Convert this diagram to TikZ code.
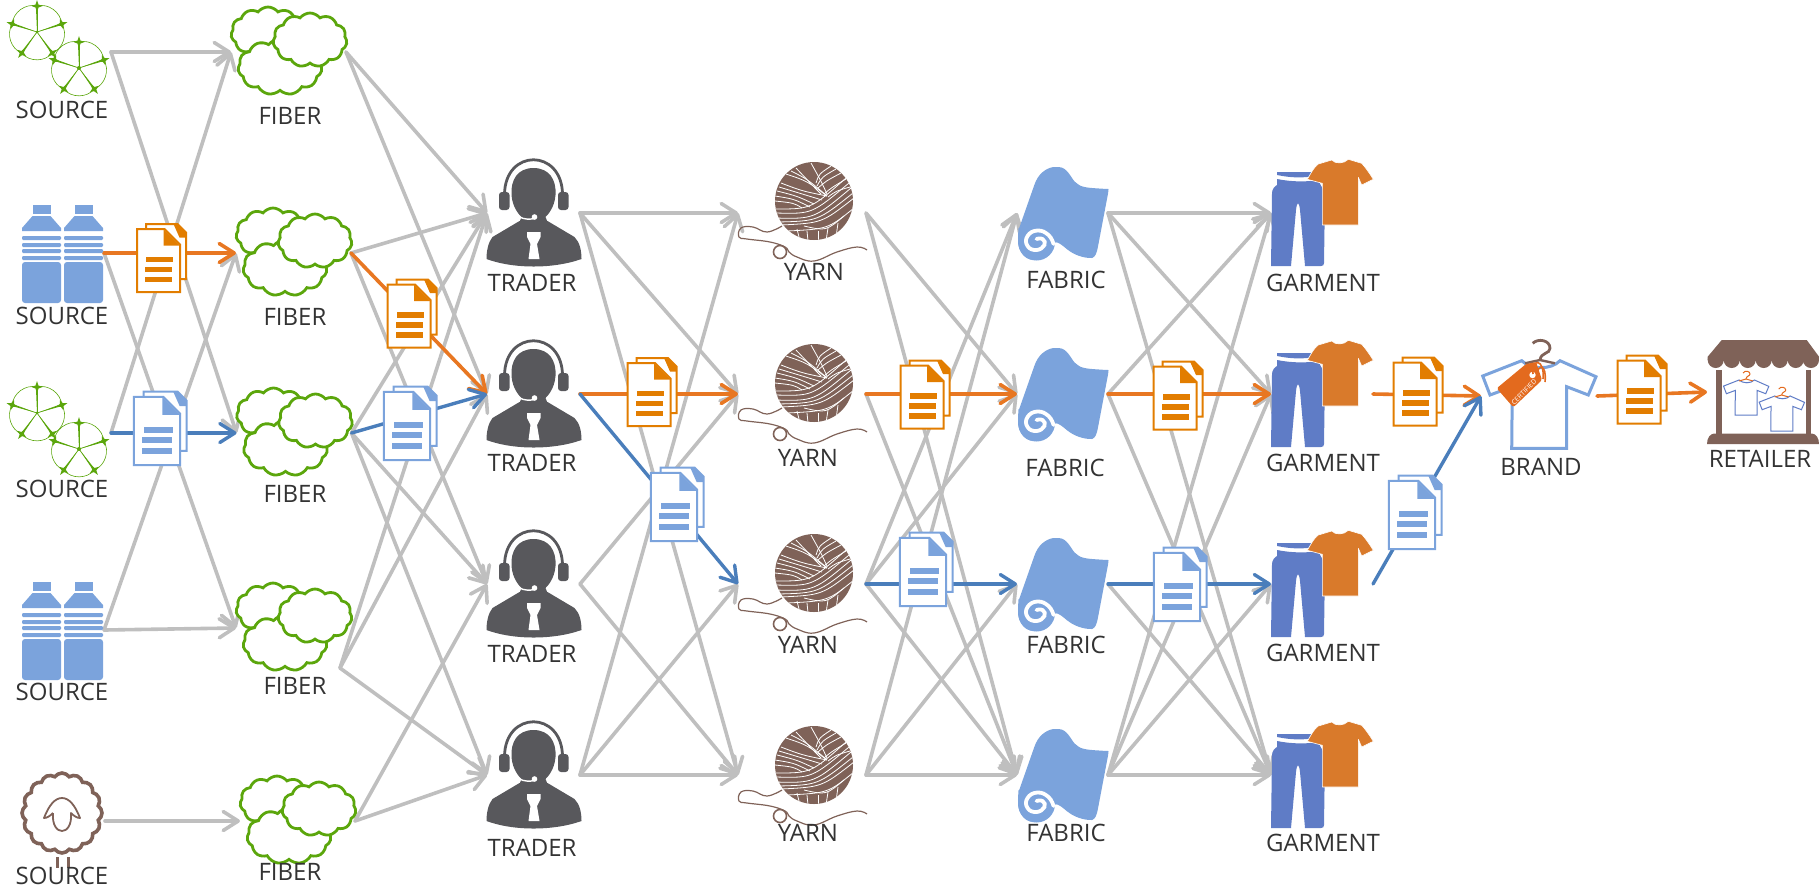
\documentclass[tikz,border=0pt]{standalone}
\usepackage{fontspec}
\setmainfont{Open Sans}
\usetikzlibrary{arrows.meta,shapes.symbols}

\definecolor{linkgrey}{HTML}{BFBFBF}
\definecolor{docorange}{HTML}{E27D00}
\definecolor{docblue}{HTML}{7BA3DC}
\definecolor{linkorange}{HTML}{E87722}
\definecolor{linkblue}{HTML}{4A7EBB}
\definecolor{cottongreen}{HTML}{5BA60C}
\definecolor{woolbrown}{HTML}{7F6258}
\definecolor{traderdark}{HTML}{58585C}
\definecolor{pantsblue}{HTML}{5F7CC6}
\definecolor{teeorange}{HTML}{D97A2B}
\definecolor{tagorange}{HTML}{E36A1E}
\definecolor{textdark}{HTML}{333333}

\tikzset{
  pics/boll arm/.style={code={
    \draw[cottongreen,line width=.3pt] (0,0) -- (0,-26);
    \fill[cottongreen] (0,0) -- (1,-24) -- (-1,-24) -- cycle;
    \fill[cottongreen] (0,-32) -- (1.5,-27.5) -- (5.5,-26) -- (1.5,-24.5) -- (0,-20) -- (-1.5,-24.5) -- (-5.5,-26) -- (-1.5,-27.5) -- cycle;
    \draw[cottongreen,line width=.3pt] (0,-26) .. controls (11,-29) and (24,-20) .. (24.7,-8);
  }},
  pics/boll/.style={code={
    \pic[rotate=0] {boll arm};
    \pic[rotate=72] {boll arm};
    \pic[rotate=144] {boll arm};
    \pic[rotate=216] {boll arm};
    \pic[rotate=288] {boll arm};
    \fill[cottongreen] (0,0) circle[radius=2];
  }},
  pics/cotton pair/.style={code={
    \pic[scale=.76,rotate=-8] at (-25,-20) {boll};
    \pic[rotate=-3] at (17,16) {boll};
  }},
  pics/bottle half/.style={code={
    \fill[docblue] (-9,-48) rectangle (9,-39);
    \fill[docblue] (-9,-37) -- (9,-37) -- (19.5,-25) -- (19.5,-22) -- (-19.5,-22) -- (-19.5,-25) -- cycle;
    \fill[docblue,rounded corners=.6pt] (-19.5,-17) rectangle (19.5,-13);
    \fill[docblue,rounded corners=.6pt] (-19.5,-10) rectangle (19.5,-6);
    \fill[docblue,rounded corners=.6pt] (-19.5,-4) rectangle (19.5,0);
    \fill[docblue,rounded corners=.6pt] (-19.5,3) rectangle (19.5,7);
    \fill[docblue,rounded corners=1.5pt] (-19.5,9) rectangle (19.5,50);
  }},
  pics/bottle pair/.style={code={
    \pic at (-20.5,0) {bottle half};
    \pic at (21.5,0) {bottle half};
  }},
  pics/sheep/.style={code={
    \fill[woolbrown] (-6.5,36) rectangle (-3.5,47);
    \fill[woolbrown] (4.5,36) rectangle (7.5,47);
    \node[cloud,cloud puffs=16,cloud puff arc=110,aspect=1,draw=woolbrown,line width=1.8pt,fill=white,minimum size=40pt,inner sep=0pt] (-wool) at (0,-8) {};
    \draw[woolbrown,line width=.9pt,line join=round] (-9,-8) .. controls (-12,-5) and (-15,-3) .. (-18,-3) .. controls (-13,-16) and (-7,-23) .. (0,-23) .. controls (7,-23) and (13,-16) .. (18,-3) .. controls (15,-3) and (12,-5) .. (9,-8) .. controls (10,4) and (5,10) .. (0,10) .. controls (-5,10) and (-10,4) .. (-9,-8);
  }},
  pics/cloud trio/.style={code={
    \node[fiber puff,minimum width=37pt,minimum height=26pt] (-back) at (-20.5,-19) {};
    \node[fiber puff,minimum width=42pt,minimum height=28pt] (-front) at (-8.5,15) {};
    \node[fiber puff,minimum width=37pt,minimum height=27pt] (-top) at (21.5,-12) {};
  }},
  pics/trader/.style={code={
    \draw[traderdark,line width=1.4pt] (-29,-18) .. controls (-29,-65) and (29,-65) .. (29,-18);
    \fill[traderdark,rounded corners=1.5pt] (-34.5,-21) rectangle (-24,-3);
    \fill[traderdark,rounded corners=1.5pt] (24.5,-21) rectangle (35,-3);
    \fill[traderdark] (0,-45) .. controls (16,-45) and (23,-33) .. (22,-18) .. controls (21,-5) and (14,2) .. (12,4) -- (14,9) -- (-14,9) -- (-12,4) .. controls (-14,2) and (-21,-5) .. (-22,-18) .. controls (-23,-33) and (-16,-45) .. (0,-45) -- cycle;
    \fill[traderdark] (-14,8) -- (14,8) -- (41,24) .. controls (46,29) and (48,37) .. (48,46) .. controls (20,56) and (-20,56) .. (-47,46) .. controls (-47,37) and (-45,29) .. (-41,24) -- cycle;
    \draw[white,line width=.7pt] (-14,4) .. controls (-9,6.5) and (-4,6.5) .. (1,5.5);
    \fill[white] (1,4) circle[radius=2.8];
    \fill[white] (-6.5,19) -- (7,19) -- (7,24) -- (3.5,31) -- (6,46) -- (-5,46) -- (-3,31) -- (-6.5,24) -- cycle;
  }},
  pics/yarn ball/.style={code={
    \draw[woolbrown,line width=.6pt] plot[smooth,tension=.7] coordinates {(-32,25) (-47,31) (-61,26) (-73,27) (-75,36) (-67,38) (-44,41) (-29,46) (-25,51) (-17,56) (0,60) (23,51) (43,46) (53,49)};
    \draw[woolbrown,line width=.8pt] (-34,51) circle[radius=6.5];
    \fill[woolbrown] (0,0) circle[radius=39];
    \begin{scope}
      \clip (0,0) circle[radius=39];
      \draw[white,line width=.4pt] (-39,17) .. controls (0,18) .. (37,-13);
      \draw[white,line width=.4pt] (-36,21) .. controls (4,20) .. (39,-8);
      \draw[white,line width=.4pt] (-33,24) .. controls (8,22) .. (40,-3);
      \draw[white,line width=.4pt] (-27,30) .. controls (14,28) .. (40,7);
      \draw[white,line width=.4pt] (-38,8) .. controls (-3,8) .. (32,-23);
      \draw[white,line width=.4pt] (-38,12) .. controls (-2,13) .. (35,-18);
      \draw[white,line width=.4pt] (-10,25) .. controls (12,30) .. (30,15);
      \draw[white,line width=.4pt] (-33,-18) .. controls (-12,-10) .. (13,-5);
      \draw[white,line width=.4pt] (-37,-10) .. controls (-17,-5) .. (0,3);
      \draw[white,line width=.4pt] (-35,-14) .. controls (-15,-8) .. (8,-1);
      \draw[white,line width=.4pt] (-39,-5) .. controls (-20,-2) .. (-4,6);
      \draw[white,line width=.4pt] (-39,0) .. controls (-20,2) .. (-12,7);
      \draw[white,line width=.4pt] (-28,-27) .. controls (-7,-20) .. (13,-5);
      \draw[white,line width=.4pt] (-23,-30) .. controls (-7,-22) .. (12,-6);
      \draw[white,line width=.4pt] (-18,-33) .. controls (0,-14) .. (7,-7);
      \draw[white,line width=.4pt] (-3,-38) .. controls (7,-20) .. (13,-7);
      \draw[white,line width=.4pt] (27,-28) .. controls (12,-20) .. (4,-13);
      \draw[white,line width=.4pt] (32,-22) .. controls (17,-13) .. (10,-7);
      \draw[white,line width=.4pt] (36,-14) .. controls (22,-10) .. (14,-4);
      \draw[white,line width=.4pt] (17,-35) .. controls (5,-27) .. (2,-18);
      \draw[white,line width=.4pt] (22,-32) .. controls (8,-24) .. (3,-15);
      \draw[white,line width=.4pt] (-17,28) -- (-14,40);
      \draw[white,line width=.4pt] (-7,30) -- (-6,40);
      \draw[white,line width=.4pt] (4,30) -- (4,40);
      \draw[white,line width=.4pt] (14,27) -- (12,40);
      \draw[white,line width=.4pt] (24,22) -- (22,36);
    \end{scope}
  }},
  pics/cloth roll/.style={code={
    \fill[docblue,rounded corners=1pt] (-44,17) -- (-27.5,-30) .. controls (-22,-42) and (-13,-46) .. (-6,-46) .. controls (5,-46) and (9,-34) .. (14,-30) .. controls (20,-25) and (30,-25) .. (44,-24) .. controls (46,-24) and (46,-23) .. (46,-22) -- (35,36) .. controls (33,44) and (30,45) .. (27,45) .. controls (17,44) and (9,40) .. (3,35) .. controls (-3,30) and (-7,28) .. (-9,32) -- (-26,47) .. controls (-40,47) and (-46,36) .. (-44,17) -- cycle;
    \fill[docblue] (-26,29) circle[radius=18.5];
    \draw[white,line width=1.9pt,line cap=round] plot[smooth,tension=.8] coordinates {(-9,31) (-14,22) (-25,17.5) (-35,23) (-35,33) (-26,37) (-18,32) (-20,26) (-26,26)};
  }},
  pics/garment pair/.style={code={
    \fill[pantsblue] (-45,-41) -- (-1,-41) -- (-6,-37) .. controls (-20,-35) and (-30,-35) .. (-45,-38) -- cycle;
    \fill[pantsblue] (-45,-34) .. controls (-30,-31) and (-15,-31) .. (-4,-33) -- (3,-20) -- (2,50) .. controls (2,52) and (1,53) .. (-1,53) -- (-17,53) -- (-22,-3) .. controls (-23,-12) and (-25,-12) .. (-26,-3) -- (-31,53) -- (-51,53) -- (-50,-20) .. controls (-50,-24) and (-47,-27) .. (-45,-28) -- cycle;
    \fill[teeorange,draw=white,line width=.3pt,line join=round] (9.7,-53) .. controls (13,-49) and (22,-49) .. (26.3,-53.7) -- (39.7,-49.7) .. controls (44,-45) and (48,-39) .. (51.3,-33.7) -- (39.7,-28) -- (36.3,-35.7) -- (36.3,12) -- (0.3,12) -- (0.3,-29.7) -- (-14.7,-33.7) .. controls (-11,-40) and (-8,-46) .. (-3.7,-49) -- cycle;
  }},
  pics/bare tee/.style={code={
    \draw[#1,fill=white,line join=miter] (-27.3,52.3) -- (27.7,52.3) -- (27.7,-9.3) -- (49.3,-1) -- (57,-19.3) -- (21,-35.3) .. controls (12,-26) and (-8,-26) .. (-17.3,-35.3) -- (-56.3,-20) -- (-49,-1) -- (-26.7,-9.3) -- cycle;
  }},
  pics/brand tee/.style={code={
    \pic {bare tee={docblue,line width=1.5pt}};
    \draw[woolbrown,line width=1.4pt] (-6.3,-52.7) .. controls (-1,-58) and (11,-56) .. (11,-47.7) .. controls (11,-42) and (2,-44) .. (1,-36);
    \draw[woolbrown,line width=1.2pt] (-14,-32.7) -- (1,-36) -- (16,-32.7);
    \fill[tagorange,rounded corners=.8pt] (-42.3,-7.7) -- (-13,-32) -- (-3,-34) -- (3,-16) -- (-25.7,11.3) -- cycle;
    \fill[white] (-6.5,-21) circle[radius=3.2];
    \draw[tagorange,line width=.8pt] (-6,-22) .. controls (-8,-38) and (6,-38) .. (4,-17);
    \draw[tagorange,line width=.8pt] (-2,-22) .. controls (-1,-32) and (8,-32) .. (6,-14);
    \node[font=\fontsize{3.4pt}{4pt}\selectfont,text=white,inner sep=0pt,rotate=45] (-tag) at (-15,-4) {CERTIFIED};
  }},
  pics/small hanger/.style={code={
    \draw[tagorange,line width=.5pt] (-3,-6) .. controls (-1,-9) and (4,-8) .. (4,-5) .. controls (4,-3) and (0,-3) .. (0,0);
    \draw[tagorange,line width=.5pt] (-7,2) -- (0,0) -- (7,2);
  }},
  pics/stall/.style={code={
    \fill[woolbrown] (-41.3,-52) -- (43.7,-52) -- (56,-35.3) -- (56,-32) -- (-55.3,-32) -- (-55.3,-35.3) -- cycle;
    \fill[woolbrown] (-47.3,-32) circle[radius=8] (-31.3,-32) circle[radius=8] (-15.3,-32) circle[radius=8] (.7,-32) circle[radius=8] (16.7,-32) circle[radius=8] (32.7,-32) circle[radius=8] (48,-32) circle[radius=8];
    \fill[woolbrown] (-47,-22) rectangle (-41,44);
    \fill[woolbrown] (42.7,-22) rectangle (48,44);
    \fill[woolbrown] (-56,52) .. controls (-56,46) and (-53,42) .. (-49,41.5) -- (49,41.5) .. controls (53,42) and (56,46) .. (56,52) -- cycle;
    \pic[scale=.4] at (-17,2.1) {bare tee={pantsblue,line width=.5pt}};
    \pic[scale=.4] at (18.7,18.1) {bare tee={pantsblue,line width=.5pt}};
    \pic at (-17,-13) {small hanger};
    \pic at (18.7,3) {small hanger};
  }},
  pics/doc sheet/.style={code={
    \draw[#1,line width=1pt,fill=white] (-12.5,-36.5) -- (19,-36.5) -- (27.5,-28) -- (27.5,18.5) -- (-12.5,18.5) -- cycle;
    \fill[#1] (15,-36.5) -- (19,-36.5) -- (27.5,-28) -- (27.5,-23) -- (21,-23) -- cycle;
    \draw[#1,line width=1pt,fill=white] (-21.5,-31.5) -- (6,-31.5) -- (21.5,-16) -- (21.5,31.5) -- (-21.5,31.5) -- cycle;
    \fill[#1] (5,-31.5) -- (21.5,-15) -- (5,-15) -- cycle;
    \fill[#1] (-12.5,-4) rectangle (14.5,1.5);
    \fill[#1] (-13.5,6) rectangle (13.5,11.5);
    \fill[#1] (-13.5,16) rectangle (13.5,21.5);
  }}
}

\begin{document}
\begin{tikzpicture}[x=0.5pt,y=-0.5pt,>={Straight Barb[length=7.5pt,width=9.5pt,round]},
  port node/.style={inner sep=0pt,outer sep=0pt,minimum height=0pt},
  tag node/.style={font=\fontsize{12pt}{14pt}\selectfont,text=textdark,inner sep=0pt,text height=8.7pt,text depth=0pt},
  fiber puff/.style={cloud,cloud puffs=11,cloud puff arc=105,cloud ignores aspect,draw=cottongreen,line width=1.4pt,fill=white,inner sep=0pt},
  grey link/.style={->,linkgrey,line width=1.8pt,line cap=round},
  orange link/.style={->,linkorange,line width=1.8pt,line cap=round},
  blue link/.style={->,linkblue,line width=1.7pt,line cap=round}]

  \useasboundingbox (0,0) rectangle (1819,890);

  % stages
  \node[port node,minimum width=49pt] (s1) at (62,52) {};
  \node[port node,minimum width=42pt] (s2) at (62,253) {};
  \node[port node,minimum width=49pt] (s3) at (62,433) {};
  \node[port node,minimum width=42pt] (s4) at (62,630) {};
  \node[port node,minimum width=43pt] (s5) at (62,821) {};

  \node[port node,minimum width=57.5pt] (f1) at (288.5,52) {};
  \node[port node,minimum width=57.5pt] (f2) at (293.5,253) {};
  \node[port node,minimum width=57.5pt] (f3) at (294,433) {};
  \node[port node,minimum width=57.5pt] (f4) at (293.5,628) {};
  \node[port node,minimum width=57.5pt] (f5) at (297.5,821) {};
  \coordinate (f4out) at (340,668);

  \node[port node,minimum width=46.5pt] (t1) at (533.5,213) {};
  \node[port node,minimum width=46.5pt] (t2) at (533.5,394) {};
  \node[port node,minimum width=46.5pt] (t3) at (533.5,584) {};
  \node[port node,minimum width=46.5pt] (t4) at (533.5,775) {};

  \node[port node,minimum width=64pt] (y1) at (802,213) {};
  \node[port node,minimum width=64pt] (y2) at (802,394) {};
  \node[port node,minimum width=64pt] (y3) at (802,584) {};
  \node[port node,minimum width=64pt] (y4) at (802,775) {};

  \node[port node,minimum width=45.5pt] (c1) at (1062.5,213) {};
  \node[port node,minimum width=45.5pt] (c2) at (1062.5,394) {};
  \node[port node,minimum width=45.5pt] (c3) at (1062.5,584) {};
  \node[port node,minimum width=45.5pt] (c4) at (1062.5,775) {};

  \node[port node,minimum width=51pt] (g1) at (1322,213) {};
  \node[port node,minimum width=51pt] (g2) at (1322,394) {};
  \node[port node,minimum width=51pt] (g3) at (1322,584) {};
  \node[port node,minimum width=51pt] (g4) at (1322,775) {};

  \node[port node,minimum width=58pt] (b1) at (1539,396) {};
  \node[port node,minimum width=56pt] (r1) at (1763,392) {};

  % all possible routes
  \path[grey link]
    (s1.east) edge (f1.west)
    (s1.east) edge (f3.west)
    (s2.east) edge (f4.west)
    (s3.east) edge (f1.west)
    (s4.east) edge (f2.west)
    (s4.east) edge (f4.west)
    (s5.east) edge (f5.west)

    (f1.east) edge (t1.west)
    (f1.east) edge (t2.west)
    (f2.east) edge (t1.west)
    (f2.east) edge (t3.west)
    (f3.east) edge (t1.west)
    (f3.east) edge (t3.west)
    (f3.east) edge (t4.west)
    (f4out) edge (t1.west)
    (f4out) edge (t2.west)
    (f4out) edge (t4.west)
    (f5.east) edge (t3.west)
    (f5.east) edge (t4.west)

    (t1.east) edge (y1.west)
    (t1.east) edge (y2.west)
    (t1.east) edge (y4.west)
    (t3.east) edge (y2.west)
    (t3.east) edge (y4.west)
    (t4.east) edge (y1.west)
    (t4.east) edge (y3.west)
    (t4.east) edge (y4.west)

    (y1.east) edge (c2.west)
    (y1.east) edge (c4.west)
    (y2.east) edge (c4.west)
    (y3.east) edge (c1.west)
    (y3.east) edge (c2.west)
    (y3.east) edge (c4.west)
    (y4.east) edge (c1.west)
    (y4.east) edge (c3.west)
    (y4.east) edge (c4.west)

    (c1.east) edge (g1.west)
    (c1.east) edge (g2.west)
    (c1.east) edge (g4.west)
    (c2.east) edge (g1.west)
    (c2.east) edge (g4.west)
    (c3.east) edge (g4.west)
    (c4.east) edge (g1.west)
    (c4.east) edge (g2.west)
    (c4.east) edge (g3.west)
    (c4.east) edge (g4.west)
    ;

  % traced routes
  \path[orange link]
    (s2.east) edge (f2.west)
    (f2.east) edge (t2.west)
    (t2.east) edge (y2.west)
    (y2.east) edge (c2.west)
    (c2.east) edge (g2.west)
    (g2.east) edge (b1.west)
    (b1.east) edge (r1.west)
    ;

  \path[blue link]
    (s3.east) edge (f3.west)
    (f3.east) edge (t2.west)
    (t2.east) edge (y3.west)
    (y3.east) edge (c3.west)
    (c3.east) edge (g3.west)
    (g3.east) edge (b1.west)
    ;

  % icons
  \pic at (s1) {cotton pair};
  \pic at (s2) {bottle pair};
  \pic at (s3) {cotton pair};
  \pic at (s4) {bottle pair};
  \pic (s5icon) at (s5) {sheep};

  \pic (f1icon) at (f1) {cloud trio};
  \pic (f2icon) at (f2) {cloud trio};
  \pic (f3icon) at (f3) {cloud trio};
  \pic (f4icon) at (f4) {cloud trio};
  \pic (f5icon) at (f5) {cloud trio};

  \pic at (t1) {trader};
  \pic at (t2) {trader};
  \pic at (t3) {trader};
  \pic at (t4) {trader};

  \pic at (814,201) {yarn ball};
  \pic at (814,383) {yarn ball};
  \pic at (814,573) {yarn ball};
  \pic at (814,765) {yarn ball};

  \pic at (c1) {cloth roll};
  \pic at (c2) {cloth roll};
  \pic at (c3) {cloth roll};
  \pic at (c4) {cloth roll};

  \pic at (g1) {garment pair};
  \pic at (g2) {garment pair};
  \pic at (g3) {garment pair};
  \pic at (g4) {garment pair};

  \pic (b1icon) at (b1) {brand tee};
  \pic at (r1) {stall};

  % documents
  \pic at (158.5,260.5) {doc sheet=docorange};
  \pic at (409,316) {doc sheet=docorange};
  \pic at (649,394.5) {doc sheet=docorange};
  \pic at (922,397) {doc sheet=docorange};
  \pic at (1175,398) {doc sheet=docorange};
  \pic at (1415,394) {doc sheet=docorange};
  \pic at (1639,392) {doc sheet=docorange};

  \pic[scale=1.08] at (157,431) {doc sheet=docblue};
  \pic[scale=1.08] at (407,426) {doc sheet=docblue};
  \pic[scale=1.08] at (674,507) {doc sheet=docblue};
  \pic[scale=1.08] at (923,572) {doc sheet=docblue};
  \pic[scale=1.08] at (1177,587) {doc sheet=docblue};
  \pic[scale=1.08] at (1412,515) {doc sheet=docblue};

  % names
  \node[tag node] (s1name) at (62,110) {SOURCE};
  \node[tag node] (s2name) at (62,316) {SOURCE};
  \node[tag node] (s3name) at (62,489) {SOURCE};
  \node[tag node] (s4name) at (62,692) {SOURCE};
  \node[tag node] (s5name) at (62,876) {SOURCE};

  \node[tag node] (f1name) at (290,116) {FIBER};
  \node[tag node] (f2name) at (295,317) {FIBER};
  \node[tag node] (f3name) at (295,494) {FIBER};
  \node[tag node] (f4name) at (295,686) {FIBER};
  \node[tag node] (f5name) at (290,872) {FIBER};

  \node[tag node] (t1name) at (532,283) {TRADER};
  \node[tag node] (t2name) at (532,463) {TRADER};
  \node[tag node] (t3name) at (532,654) {TRADER};
  \node[tag node] (t4name) at (532,848) {TRADER};

  \node[tag node] (y1name) at (814,272) {YARN};
  \node[tag node] (y2name) at (808,458) {YARN};
  \node[tag node] (y3name) at (808,645) {YARN};
  \node[tag node] (y4name) at (808,833) {YARN};

  \node[tag node] (c1name) at (1066,280) {FABRIC};
  \node[tag node] (c2name) at (1065,468) {FABRIC};
  \node[tag node] (c3name) at (1066,645) {FABRIC};
  \node[tag node] (c4name) at (1066,833) {FABRIC};

  \node[tag node] (g1name) at (1323,283) {GARMENT};
  \node[tag node] (g2name) at (1323,463) {GARMENT};
  \node[tag node] (g3name) at (1323,653) {GARMENT};
  \node[tag node] (g4name) at (1323,843) {GARMENT};

  \node[tag node] (b1name) at (1541,467) {BRAND};
  \node[tag node] (r1name) at (1760,459) {RETAILER};

\end{tikzpicture}
\end{document}
